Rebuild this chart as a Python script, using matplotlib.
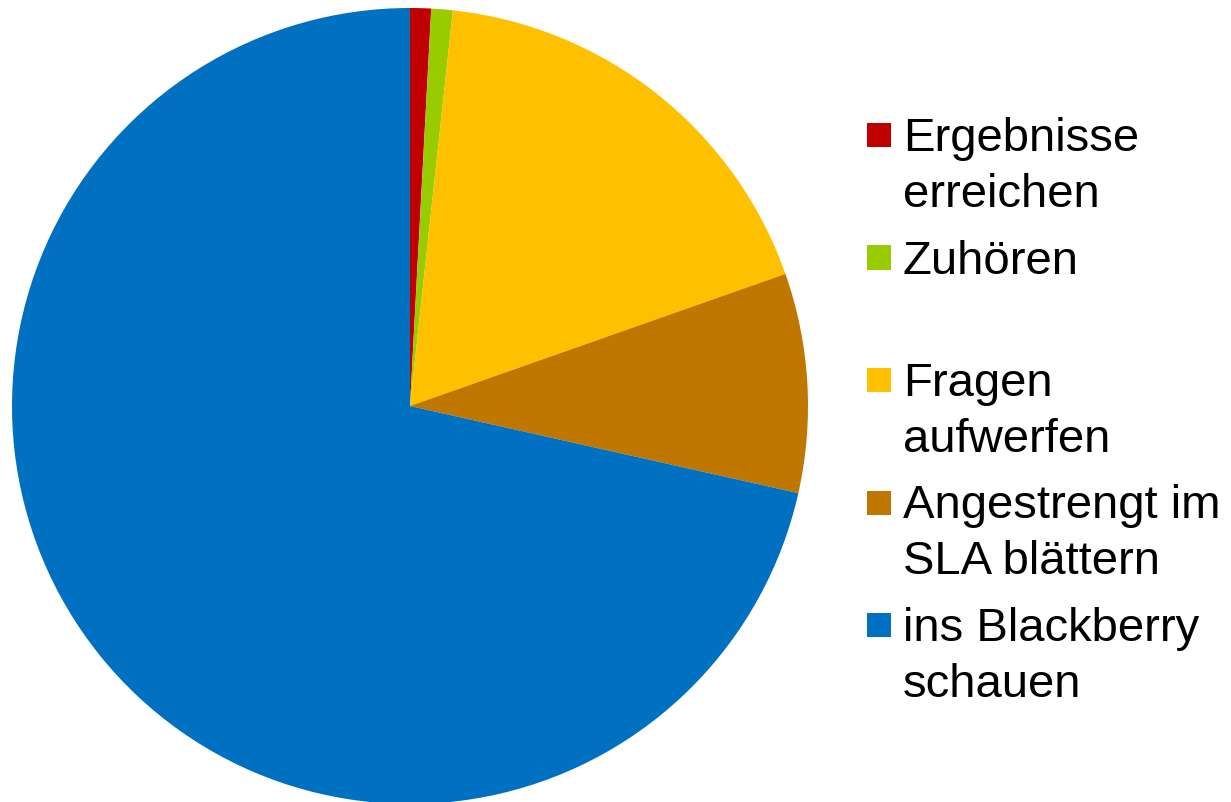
import matplotlib.pyplot as plt
from matplotlib.patches import Rectangle

labels = ["Ergebnisse\nerreichen", "Zuhören", "Fragen\naufwerfen",
          "Angestrengt im\nSLA blättern", "ins Blackberry\nschauen"]
shares = [0.85, 0.87, 17.9, 8.9, 71.5]
colors = ["#C00000", "#99CC00", "#FFC000", "#C07700", "#0070C0"]

W, H = 1231, 802
fig = plt.figure(figsize=(W / 100, H / 100), dpi=100)

# pie placed by pixel geometry of the reference
cx, cy, r = 410, 406, 398
ax = fig.add_axes([(cx - r) / W, (H - cy - r) / H, 2 * r / W, 2 * r / H])
ax.pie(shares, colors=colors, startangle=90, counterclock=False,
       radius=1, wedgeprops=dict(linewidth=0))
ax.set_xlim(-1, 1)
ax.set_ylim(-1, 1)
ax.set_aspect("equal")
ax.axis("off")

# manual legend, square aligned with first text line
sq = 24
for i, (lab, col) in enumerate(zip(labels, colors)):
    yc = 135 + 122.5 * i
    fig.patches.append(Rectangle((867 / W, (H - yc - sq / 2) / H), sq / W, sq / H,
                                 transform=fig.transFigure, color=col, lw=0))
    for j, line in enumerate(lab.split("\n")):
        base = yc + 16 + 56 * j
        fig.text(903 / W, (H - base) / H, line, fontsize=34,
                 family="Liberation Sans", va="baseline", ha="left")

fig.savefig("out.png", dpi=100)
